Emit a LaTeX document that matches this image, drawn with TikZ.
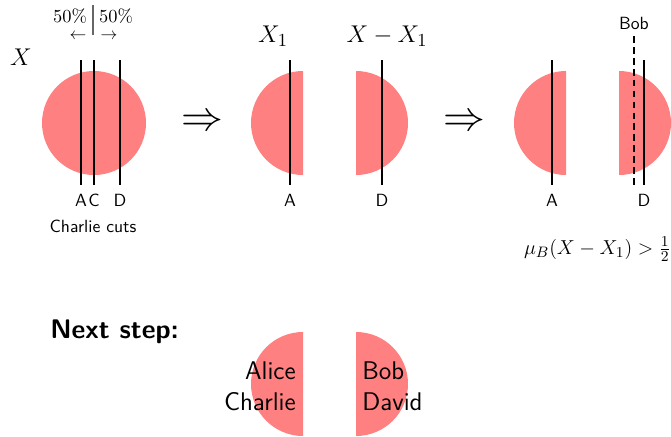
\documentclass[tikz,border=0pt]{standalone}
\usepackage{tikz}
\usetikzlibrary{positioning}
\usepackage{amsmath}
\tikzset{
	piece/.style={fill=red!50},
	cut/.style={line width=1.5pt},
	bobcut/.style={cut, dash pattern=on 4pt off 2.5pt},
	cutlabel/.style={font=\sffamily\fontsize{10.5}{12}\selectfont, inner sep=0pt},
	setname/.style={font=\fontsize{15}{17}\selectfont, inner sep=0pt},
	pct/.style={font=\fontsize{11}{13}\selectfont, inner sep=0pt},
	names/.style={font=\sffamily\fontsize{15.2}{18.5}\selectfont, inner sep=0pt},
	implies/.style={font=\Huge, inner sep=0pt}}

\begin{document}
\begin{tikzpicture}[x=0.0209cm, y=-0.0209cm]
		\useasboundingbox (0,0) rectangle (671,436);
		
		%Whole set
		\fill[piece] (94,123) circle[radius=52];
		\node[setname] (X) at (21,57) {$X$};
		\foreach \n/\x in {A/81, C/94, D/120}{
			\draw[cut] (\x,60) -- (\x,185);
			\node[cutlabel] (cut\n) at (\x,200) {\n};
		}
		\node[cutlabel] (charlie) at (93,226) {Charlie cuts};
		
		%Halves
		\node[pct] (lpct) at (70,16) {$50\%$};
		\node[pct] (rpct) at (116,16) {$50\%$};
		\node[inner sep=0pt] (larrow) at (78,36) {$\leftarrow$};
		\node[inner sep=0pt] (rarrow) at (109,36) {$\rightarrow$};
		\draw[black!60, line width=0.9pt] (93,5) -- (93,35);
		
		\node[implies] (step1) at (202,123) {$\Rightarrow$};
		
		%Split
		\fill[piece] (303,71) arc[start angle=-90, end angle=-270, radius=52] -- cycle;
		\fill[piece] (356,71) arc[start angle=-90, end angle=90, radius=52] -- cycle;
		\node[setname] (X1) at (273,36) {$X_1$};
		\node[setname] (Xrest) at (387,36) {$X - X_1$};
		\draw[cut] (290,60) -- (290,185);
		\draw[cut] (382,60) -- (382,185);
		\node[cutlabel] (splitA) at (290,200) {A};
		\node[cutlabel] (splitD) at (382,200) {D};
		
		\node[implies] (step2) at (464,123) {$\Rightarrow$};
		
		%Bob
		\fill[piece] (566,71) arc[start angle=-90, end angle=-270, radius=52] -- cycle;
		\fill[piece] (619,71) arc[start angle=-90, end angle=90, radius=52] -- cycle;
		\draw[cut] (552,60) -- (552,185);
		\draw[cut] (644,60) -- (644,185);
		\draw[bobcut] (634,36) -- (634,185);
		\node[cutlabel] (bobA) at (552,200) {A};
		\node[cutlabel] (bobD) at (644,200) {D};
		\node[cutlabel] (bob) at (634,23) {Bob};
		\node[anchor=east, inner sep=0pt, font=\fontsize{12.2}{14}\selectfont] (muB) at (671,249) {$\mu_B(X - X_1) > \frac{1}{2}$};
		
		%Next step
		\node[anchor=west, inner sep=0pt, font=\sffamily\bfseries\fontsize{16}{19}\selectfont] (next) at (50,332) {Next step:};
		\fill[piece] (303,332) arc[start angle=-90, end angle=-270, radius=52] -- cycle;
		\fill[piece] (356,332) arc[start angle=-90, end angle=90, radius=52] -- cycle;
		\node[names, anchor=east, align=right] (lnames) at (296,386) {Alice\\Charlie};
		\node[names, anchor=west, align=left] (rnames) at (362,386) {Bob\\David};
	\end{tikzpicture}
\end{document}
